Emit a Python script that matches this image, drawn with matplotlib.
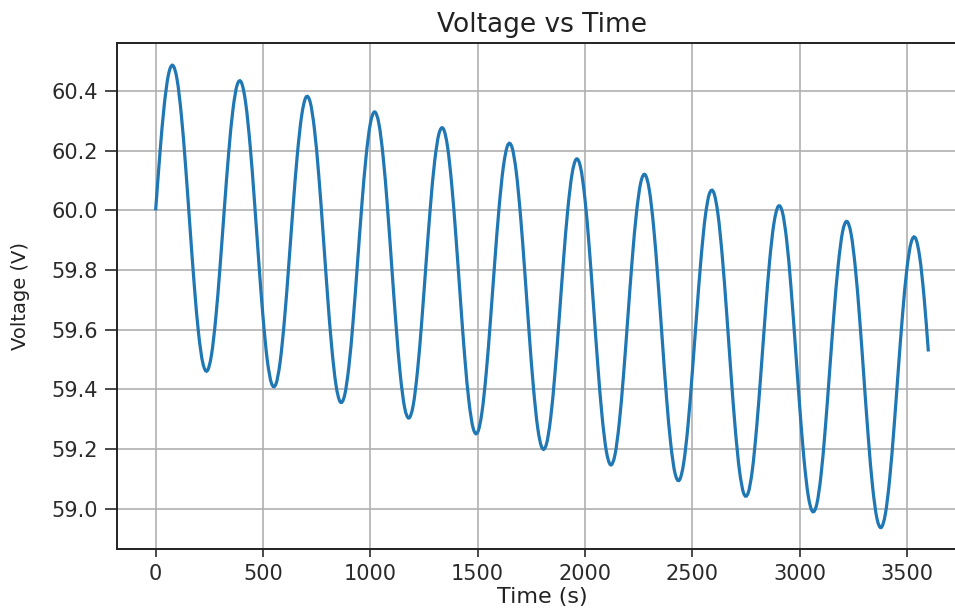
import numpy as np
import matplotlib
matplotlib.use("Agg")
from matplotlib import pyplot as plt
from matplotlib.path import Path
from matplotlib.patches import PathPatch

# time axis, one sample every 20 s
time_s = np.arange(0, 3601, 20)

# voltage (V)
voltage = [
    60.000, 60.191, 60.352, 60.456, 60.486, 60.438, 60.318, 60.144, 59.944, 59.749,
    59.588, 59.488, 59.462, 59.515, 59.638, 59.810, 60.005, 60.190, 60.337, 60.421,
    60.428, 60.357, 60.219, 60.035, 59.833, 59.645, 59.499, 59.420, 59.417, 59.492,
    59.632, 59.814, 60.009, 60.186, 60.316, 60.379, 60.363, 60.271, 60.117, 59.924,
    59.723, 59.544, 59.416, 59.358, 59.379, 59.475, 59.629, 59.819, 60.012, 60.178,
    60.290, 60.330, 60.291, 60.179, 60.011, 59.812, 59.615, 59.448, 59.339, 59.304,
    59.347, 59.462, 59.630, 59.824, 60.012, 60.165, 60.257, 60.274, 60.213, 60.082,
    59.902, 59.701, 59.509, 59.357, 59.268, 59.256, 59.322, 59.454, 59.633, 59.828,
    60.009, 60.146, 60.218, 60.212, 60.129, 59.981, 59.792, 59.590, 59.407, 59.271,
    59.204, 59.215, 59.302, 59.451, 59.637, 59.832, 60.002, 60.122, 60.172, 60.143,
    60.039, 59.877, 59.680, 59.481, 59.309, 59.192, 59.147, 59.181, 59.288, 59.450,
    59.642, 59.833, 59.991, 60.093, 60.120, 60.068, 59.945, 59.769, 59.569, 59.374,
    59.216, 59.118, 59.096, 59.153, 59.278, 59.455, 59.647, 59.831, 59.976, 60.056,
    60.060, 59.986, 59.845, 59.659, 59.457, 59.271, 59.128, 59.051, 59.052, 59.130,
    59.273, 59.456, 59.651, 59.827, 59.954, 60.013, 59.994, 59.899, 59.742, 59.548,
    59.348, 59.171, 59.045, 58.991, 59.015, 59.113, 59.271, 59.461, 59.653, 59.817,
    59.927, 59.963, 59.921, 59.806, 59.636, 59.437, 59.240, 59.075, 58.969, 58.937,
    58.984, 59.102, 59.272, 59.466, 59.653, 59.804, 59.893, 59.907, 59.842, 59.709,
    59.527,
]

x_ticks = [0, 500, 1000, 1500, 2000, 2500, 3000, 3500]
y_ticks = [59.0, 59.2, 59.4, 59.6, 59.8, 60.0, 60.2, 60.4]

fig = plt.figure(figsize=(9.55, 6.09), dpi=100)
# right edge of the axes runs past the picture, as in the reference
ax = fig.add_axes([117/955, 60/609, 850/955, 506/609])

# smooth line: cubic bezier segments through the samples (catmull-rom handles)
x = np.asarray(time_s, dtype=float)
y = np.asarray(voltage)
xp = np.concatenate([[2*x[0] - x[1]], x, [2*x[-1] - x[-2]]])
yp = np.concatenate([[2*y[0] - y[1]], y, [2*y[-1] - y[-2]]])
verts = [(x[0], y[0])]
codes = [Path.MOVETO]
for i in range(1, len(xp) - 2):
    c1 = (xp[i] + (xp[i+1] - xp[i-1])/6, yp[i] + (yp[i+1] - yp[i-1])/6)
    c2 = (xp[i+1] - (xp[i+2] - xp[i])/6, yp[i+1] - (yp[i+2] - yp[i])/6)
    verts += [c1, c2, (xp[i+1], yp[i+1])]
    codes += [Path.CURVE4]*3
ax.add_patch(PathPatch(Path(verts, codes), facecolor="none",
                       edgecolor="#1f77b4", linewidth=2.3, zorder=3))

ax.set_xlim(-180, 3780)
ax.set_ylim(58.865, 60.561)
ax.set_xticks(x_ticks)
ax.set_yticks(y_ticks)
ax.set_yticklabels(["%.1f" % v for v in y_ticks])
ax.grid(True, color="#b0b0b0", linewidth=1.2)

ax.tick_params(axis="x", labelsize=15, length=6, width=1.2, pad=5, colors="#2a2a2a")
ax.tick_params(axis="y", labelsize=15, length=9, width=1.2, pad=5, colors="#2a2a2a")
for sp in ax.spines.values():
    sp.set_linewidth(1.4)
    sp.set_color("#222222")

ax.set_title("Voltage vs Time", fontsize=19, pad=8, color="#222222")
ax.set_xlabel("Time (s)", fontsize=16, color="#222222")
ax.set_ylabel("Voltage (V)", fontsize=14, color="#222222")
ax.xaxis.set_label_coords(0.5, -0.076)
ax.yaxis.set_label_coords(-0.102, 0.5)

fig.savefig("out.png", dpi=100)
